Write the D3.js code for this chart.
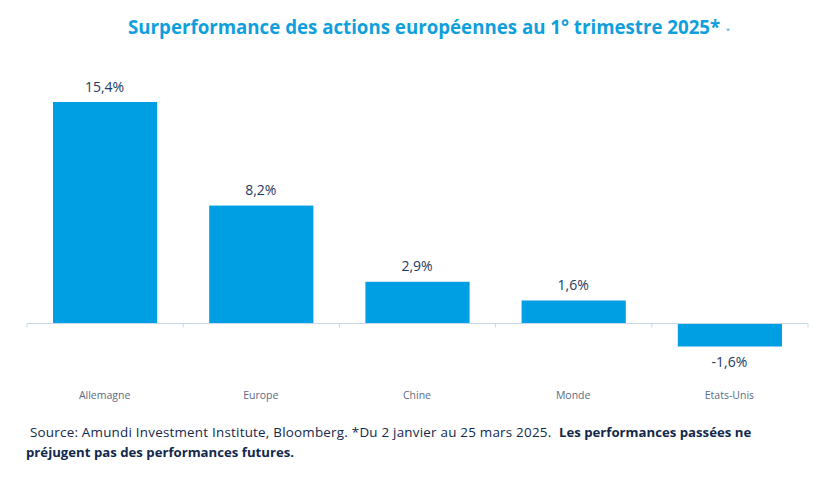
<!DOCTYPE html>
<html>
<head>
<meta charset="utf-8">
<script src="https://cdn.jsdelivr.net/npm/d3@7"></script>
<style>
  html, body { margin: 0; padding: 0; background: #fff; }
  svg { display: block; }
  text { font-family: "Open Sans", sans-serif; }
</style>
</head>
<body>
<div id="chart"></div>
<script>
const categories = ['Allemagne', 'Europe', 'Chine', 'Monde', 'Etats-Unis'];
const values = [15.4, 8.2, 2.9, 1.6, -1.6];
const labels = ['15,4%', '8,2%', '2,9%', '1,6%', '-1,6%'];
const title = 'Surperformance des actions européennes au 1° trimestre 2025*';
const sourceLine1 = 'Source: Amundi Investment Institute, Bloomberg. *Du 2 janvier au 25 mars 2025.';
const boldLine1 = 'Les performances passées ne';
const boldLine2 = 'préjugent pas des performances futures.';

const width = 822;
const height = 477;
const navy = '#12284c';
const blue = '#009fe3';

const svg = d3.select('#chart').append('svg')
  .attr('width', width)
  .attr('height', height);

const x = d3.scaleBand().domain(categories).range([27, 808]).paddingInner(0).paddingOuter(0);
const y = d3.scaleLinear().domain([0, 15.4]).range([323.5, 102]);
const barWidth = x.bandwidth() * 0.667;

svg.append('text')
  .attr('x', 128)
  .attr('y', 33.5)
  .attr('font-size', 18.7)
  .attr('font-weight', 700)
  .attr('fill', '#0f9fdc')
  .text(title);

svg.append('text')
  .attr('x', 726)
  .attr('y', 33)
  .attr('font-size', 7)
  .attr('fill', '#0f9fdc')
  .text('*');

svg.selectAll('rect.bar')
  .data(values)
  .join('rect')
  .attr('class', 'bar')
  .attr('x', (d, i) => x(categories[i]) + (x.bandwidth() - barWidth) / 2)
  .attr('y', d => y(Math.max(d, 0)))
  .attr('width', barWidth)
  .attr('height', d => Math.abs(y(d) - y(0)))
  .attr('fill', blue);

const axis = svg.append('g')
  .attr('transform', `translate(0,${y(0)})`)
  .call(d3.axisBottom(x).tickValues([]).tickSize(0));
axis.select('.domain').remove();

axis.append('line')
  .attr('x1', x.range()[0])
  .attr('x2', x.range()[1])
  .attr('stroke', '#c5d9ea')
  .attr('stroke-width', 1);

axis.selectAll('line.tick')
  .data(d3.range(categories.length + 1))
  .join('line')
  .attr('class', 'tick')
  .attr('x1', i => x.range()[0] + i * x.step())
  .attr('x2', i => x.range()[0] + i * x.step())
  .attr('y1', 0)
  .attr('y2', 4)
  .attr('stroke', '#c5d9ea');

svg.selectAll('text.value')
  .data(values)
  .join('text')
  .attr('class', 'value')
  .attr('x', (d, i) => x(categories[i]) + x.bandwidth() / 2 - 0.5)
  .attr('y', d => d >= 0 ? y(d) - 10.5 : y(d) + 20.5)
  .attr('text-anchor', 'middle')
  .attr('font-size', 14)
  .attr('fill', '#1f3a60')
  .text((d, i) => labels[i]);

svg.selectAll('text.cat')
  .data(categories)
  .join('text')
  .attr('class', 'cat')
  .attr('x', d => x(d) + x.bandwidth() / 2 - 0.5)
  .attr('y', 399)
  .attr('text-anchor', 'middle')
  .attr('font-size', 10.5)
  .attr('fill', '#5b6b84')
  .text(d => d);

svg.append('text')
  .attr('x', 30)
  .attr('y', 437)
  .attr('font-size', 13.4)
  .attr('letter-spacing', 0.23)
  .attr('fill', navy)
  .text(sourceLine1);

svg.append('text')
  .attr('x', 559)
  .attr('y', 437)
  .attr('font-size', 13.2)
  .attr('font-weight', 700)
  .attr('fill', navy)
  .text(boldLine1);

svg.append('text')
  .attr('x', 26)
  .attr('y', 457)
  .attr('font-size', 13.2)
  .attr('font-weight', 700)
  .attr('fill', navy)
  .text(boldLine2);
</script>
</body>
</html>
